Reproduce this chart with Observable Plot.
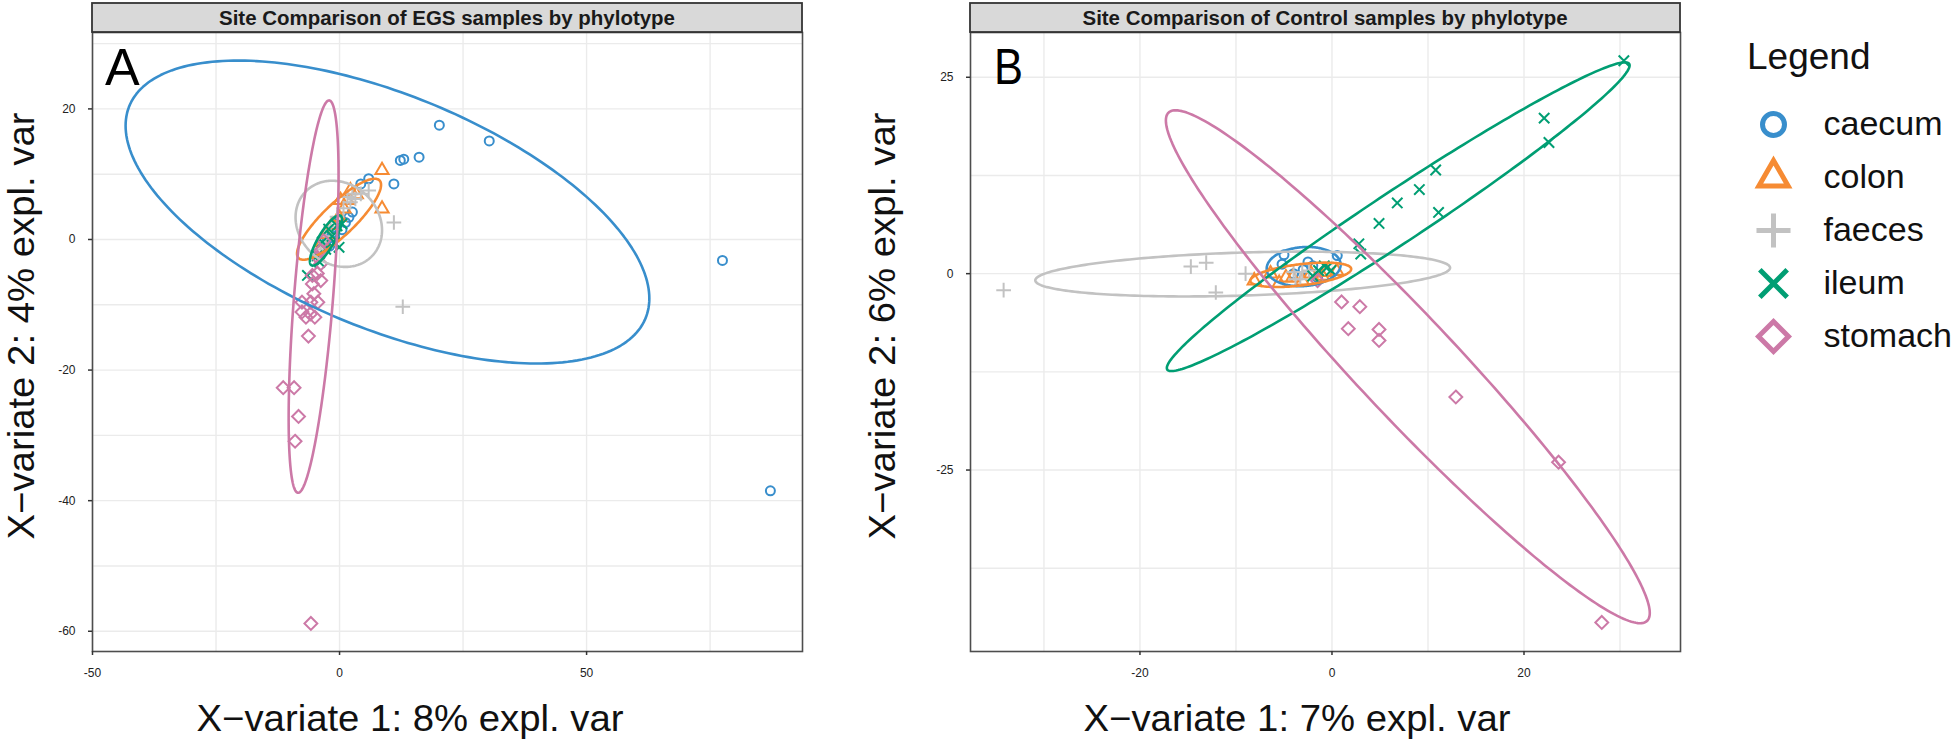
<!DOCTYPE html>
<html><head><meta charset="utf-8">
<script src="https://cdn.jsdelivr.net/npm/d3@7"></script>
<script src="https://cdn.jsdelivr.net/npm/@observablehq/plot@0.6"></script>
<style>
html,body{margin:0;padding:0;background:#fff;}
#root{position:relative;width:1960px;height:746px;overflow:hidden;background:#fff;font-family:"Liberation Sans",Arial,sans-serif;}
.abs{position:absolute;top:0;}
</style></head><body><div id="root"></div>
<script>
// ---------- categories & styling ----------
const sites = ["caecum", "colon", "faeces", "ileum", "stomach"];
const siteColors = ["#388ECC", "#F68B33", "#C2C2C2", "#009E73", "#CC79A7"];
const siteSymbols = ["circle", "triangle2", "plus", "times", "diamond2"];

// ---------- Panel A : EGS samples ----------
const egsTitle = "Site Comparison of EGS samples by phylotype";
const egsXLabel = "X\u2212variate 1: 8% expl. var";
const egsYLabel = "X\u2212variate 2: 4% expl. var";
const egsCaecum = [[20.2,17.5],[30.3,15.1],[12.3,12.1],[13.0,12.3],[16.1,12.6],[11.0,8.5],[5.9,9.3],[4.3,8.5],[2.6,4.2],[1.9,3.4],[1.2,2.6],[77.5,-3.2],[87.2,-38.5],[0.5,1.5],[-1.0,0.5],[-2.0,-1.0],[-1.5,1.0],[0.0,3.0],[-2.5,0.0]];
const egsColon = [[8.6,10.6],[8.6,4.7],[3.4,6.9],[2.2,7.5],[0.2,6.0],[1.6,6.0],[0.9,4.7],[-0.1,3.4],[-1.5,2.2],[-2.8,0.8],[-3.5,-0.5]];
const egsFaeces = [[11.0,2.6],[12.8,-10.3],[5.9,7.5],[4.3,7.0],[3.2,6.2],[2.2,5.7],[1.6,6.5],[2.6,7.0],[0.8,4.8],[-0.5,3.5],[-1.8,2.0],[-2.8,0.5],[-3.8,-1.5]];
const egsIleum = [[-6.5,-5.5],[-0.1,-1.2],[-0.5,2.1],[-2.2,1.6],[0.5,2.4],[-3.5,-0.4],[-4.5,-2.5],[-1.5,0.5],[-2.8,-1.5],[-4.0,-3.5],[-1.0,-0.5]];
const egsStomach = [[-11.4,-22.7],[-9.2,-22.7],[-8.3,-27.1],[-9.0,-30.9],[-5.8,-58.8],[-6.3,-14.8],[-6.8,-11.9],[-5.0,-11.9],[-4.4,-9.6],[-5.8,-9.6],[-7.6,-9.6],[-5.2,-8.3],[-5.5,-6.8],[-3.8,-6.3],[-5.5,-5.5],[-4.5,-5.2],[-3.8,-3.7],[-3.8,-1.7],[-3.2,-0.2],[-4.5,-2.7],[-7.6,-11.1],[-5.9,-11.4]];
// ellipse centre, half-extents along x and y, and correlation (tilt), per site
const egsEllCx = [9.7, -0.1, -0.15, -2.75, -5.25];
const egsEllCy = [4.2, 3.1, 2.4, -0.15, -8.75];
const egsEllSx = [53.0, 8.5, 8.75, 3.25, 5.05];
const egsEllSy = [23.2, 6.2, 6.6, 3.85, 30.05];
const egsEllRho = [-0.57, 0.85, -0.15, 0.82, 0.62];
const egsXDomain = [-50, 93.7];
const egsYDomain = [-63.1, 31.7];
const egsXTicks = [-50, 0, 50];
const egsYTicks = [-60, -40, -20, 0, 20];
const egsXGrid = [-50, -25, 0, 25, 50, 75];
const egsYGrid = [-60, -50, -40, -30, -20, -10, 0, 10, 20, 30];

// ---------- Panel B : Control samples ----------
const ctlTitle = "Site Comparison of Control samples by phylotype";
const ctlXLabel = "X\u2212variate 1: 7% expl. var";
const ctlYLabel = "X\u2212variate 2: 6% expl. var";
const ctlCaecum = [[-5.0,2.4],[0.55,2.3],[-5.2,1.2],[-3.0,0.5],[-2.0,1.0],[-1.5,-0.5],[-4.0,0.0],[-2.5,1.5]];
const ctlColon = [[-8.1,-0.9],[-6.4,0.0],[-4.1,-0.5],[-4.8,-0.5],[-3.1,-0.9],[-2.2,0.0],[-1.0,-0.3],[0.5,0.3],[-5.5,-1.2],[-0.5,0.2]];
const ctlFaeces = [[-34.2,-2.1],[-14.7,0.9],[-13.1,1.4],[-12.1,-2.4],[-9.0,0.0],[-4.0,0.2],[-3.1,0.2],[-2.4,0.4],[-3.3,-0.7],[-3.8,-0.7]];
const ctlIleum = [[30.4,27.1],[22.1,19.8],[22.6,16.7],[10.8,13.2],[9.1,10.7],[6.8,9.0],[11.1,7.8],[4.9,6.4],[2.8,3.8],[3.0,2.5],[-1.4,0.4],[-0.5,0.8],[-0.8,1.0],[-0.1,0.4],[-2.0,-0.3]];
const ctlStomach = [[1.0,-3.6],[2.9,-4.2],[1.7,-7.0],[4.9,-7.1],[4.9,-8.5],[12.9,-15.7],[23.6,-24.0],[28.1,-44.4],[-1.5,-0.9]];
const ctlEllCx = [-2.95, -3.25, -9.3, 6.9, 7.9];
const ctlEllCy = [0.9, -0.15, -0.05, 7.25, -11.85];
const ctlEllSx = [3.85, 5.25, 21.6, 24.1, 25.2];
const ctlEllSy = [2.5, 1.55, 2.85, 19.65, 32.65];
const ctlEllRho = [0.1, 0.48, 0.28, 0.98, -0.96];
const ctlXDomain = [-37.65, 36.3];
const ctlYDomain = [-48.1, 30.7];
const ctlXTicks = [-20, 0, 20];
const ctlYTicks = [-25, 0, 25];
const ctlXGrid = [-30, -20, -10, 0, 10, 20, 30];
const ctlYGrid = [-37.5, -25, -12.5, 0, 12.5, 25];

// ---------- rendering ----------
const pointR = [4.5, 6.3, 4.8, 4.8, 5.8];
const legendR = [11, 14, 11, 12.5, 13.5];
const FONT = '"Liberation Sans", Arial, sans-serif';
const NARROW = '"Liberation Sans Narrow", "Liberation Sans", Arial, sans-serif';

function ellipseRing(cx, cy, sx, sy, rho) {
  const n = 240, q = Math.sqrt(1 - rho * rho), out = [];
  for (let i = 0; i <= n; i++) {
    const t = 2 * Math.PI * i / n;
    out.push({x: cx + sx * Math.cos(t), y: cy + sy * (rho * Math.cos(t) + q * Math.sin(t))});
  }
  return out;
}

function panel(cfg) {
  const marks = [
    Plot.gridX(cfg.xGrid, {stroke: "#ebebeb", strokeOpacity: 1, strokeWidth: 1.4}),
    Plot.gridY(cfg.yGrid, {stroke: "#ebebeb", strokeOpacity: 1, strokeWidth: 1.4})
  ];
  sites.forEach((s, i) => {
    marks.push(Plot.dot(cfg.points[i], {x: d => d[0], y: d => d[1], symbol: siteSymbols[i], r: pointR[i], stroke: siteColors[i], fill: "none", strokeWidth: 2}));
  });
  sites.forEach((s, i) => {
    marks.push(Plot.line(ellipseRing(cfg.ell[0][i], cfg.ell[1][i], cfg.ell[2][i], cfg.ell[3][i], cfg.ell[4][i]), {x: "x", y: "y", stroke: siteColors[i], strokeWidth: 2.6}));
  });
  marks.push(Plot.frame({stroke: "#4d4d4d", strokeWidth: 1.6}));
  marks.push(Plot.axisX(cfg.xTicks, {tickSize: 4, tickPadding: 13, fontSize: 12, fontFamily: NARROW, stroke: "#333", strokeWidth: 1.5, fill: "#222", tickFormat: d => String(d), label: null}));
  marks.push(Plot.axisY(cfg.yTicks, {tickSize: 4, tickPadding: 13, fontSize: 12, fontFamily: NARROW, stroke: "#333", strokeWidth: 1.5, fill: "#222", tickFormat: d => String(d), label: null}));
  return Plot.plot({
    width: 812, height: 746,
    marginLeft: cfg.ml, marginRight: 812 - cfg.ml - 710, marginTop: 32, marginBottom: 95,
    x: {domain: cfg.xDomain}, y: {domain: cfg.yDomain},
    style: {background: "transparent", fontFamily: FONT, overflow: "visible"},
    marks
  });
}

const root = document.getElementById("root");
function place(el, left) {
  const wrap = document.createElement("div");
  wrap.className = "abs";
  wrap.style.left = left + "px";
  wrap.appendChild(el);
  root.appendChild(wrap);
}

place(panel({
  points: [egsCaecum, egsColon, egsFaeces, egsIleum, egsStomach],
  ell: [egsEllCx, egsEllCy, egsEllSx, egsEllSy, egsEllRho],
  xDomain: egsXDomain, yDomain: egsYDomain, xTicks: egsXTicks, yTicks: egsYTicks,
  xGrid: egsXGrid, yGrid: egsYGrid, ml: 92
}), 0);

place(panel({
  points: [ctlCaecum, ctlColon, ctlFaeces, ctlIleum, ctlStomach],
  ell: [ctlEllCx, ctlEllCy, ctlEllSx, ctlEllSy, ctlEllRho],
  xDomain: ctlXDomain, yDomain: ctlYDomain, xTicks: ctlXTicks, yTicks: ctlYTicks,
  xGrid: ctlXGrid, yGrid: ctlYGrid, ml: 90
}), 880);

// legend
const legend = Plot.plot({
  width: 220, height: 400, margin: 0,
  x: {domain: [0, 1], range: [33, 210], axis: null},
  y: {type: "point", domain: sites, range: [124, 336], padding: 0, axis: null},
  style: {background: "transparent", fontFamily: FONT, overflow: "visible"},
  marks: [
    ...sites.map((s, i) => Plot.dot([s], {x: () => 0, y: d => d, symbol: siteSymbols[i], r: legendR[i], stroke: siteColors[i], fill: "none", strokeWidth: 5})),
    Plot.text(sites, {x: () => 0, y: d => d, text: d => d, dx: 50, textAnchor: "start", fontSize: 34, fill: "#111"})
  ]
});
place(legend, 1740);

// overlay: strips, panel letters, axis titles, legend title
const ov = d3.select(root).append("svg")
  .attr("width", 1960).attr("height", 746)
  .style("position", "absolute").style("left", "0px").style("top", "0px")
  .style("pointer-events", "none");

function strip(x0, text, tl) {
  ov.append("rect").attr("x", x0).attr("y", 3).attr("width", 710).attr("height", 29)
    .attr("fill", "#d9d9d9").attr("stroke", "#333").attr("stroke-width", 1.8);
  ov.append("text").attr("x", x0 + 355).attr("y", 25).attr("text-anchor", "middle")
    .attr("font-family", NARROW).attr("font-weight", "bold").attr("font-size", 20).attr("fill", "#1a1a1a")
    .attr("textLength", tl).attr("lengthAdjust", "spacingAndGlyphs").text(text);
}
strip(92, egsTitle, 456);
strip(970, ctlTitle, 485);

function big(x, y, text, rotate) {
  const t = ov.append("text").attr("font-family", FONT).attr("font-size", 37).attr("fill", "#111")
    .attr("text-anchor", "middle").attr("textLength", 427).attr("lengthAdjust", "spacingAndGlyphs").text(text);
  if (rotate) t.attr("transform", `translate(${x},${y}) rotate(-90)`);
  else t.attr("x", x).attr("y", y);
}
big(410, 731, egsXLabel, false);
big(1297, 731, ctlXLabel, false);
big(34, 326, egsYLabel, true);
big(895, 326, ctlYLabel, true);

ov.append("text").attr("x", 105).attr("y", 85).attr("font-family", FONT).attr("font-size", 52).attr("fill", "#000").text("A");
ov.append("text").attr("x", 994).attr("y", 84).attr("font-family", FONT).attr("font-size", 50).attr("fill", "#000")
  .attr("textLength", 29).attr("lengthAdjust", "spacingAndGlyphs").text("B");
ov.append("text").attr("x", 1747).attr("y", 69).attr("font-family", FONT).attr("font-size", 37).attr("fill", "#111").text("Legend");
</script></body></html>
